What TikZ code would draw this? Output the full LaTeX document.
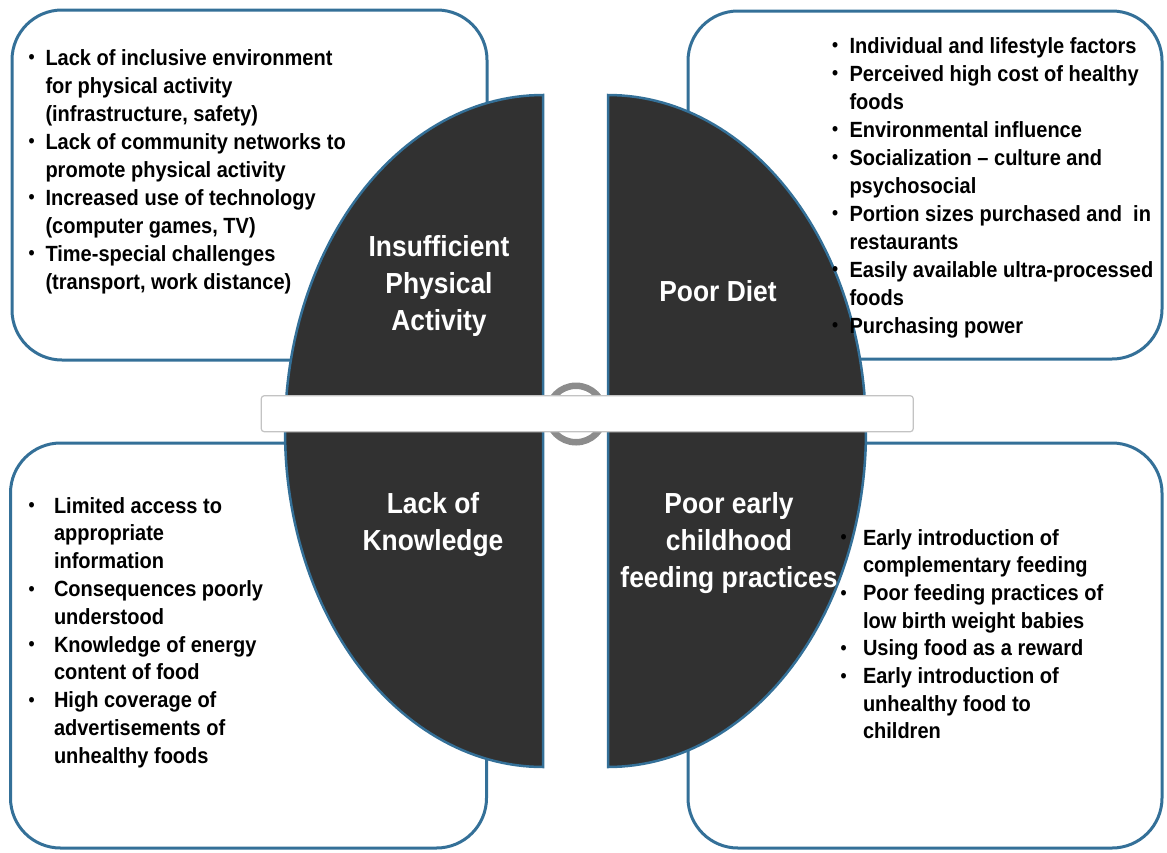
\documentclass[tikz,border=0pt]{standalone}
\usepackage{fontspec}
\setmainfont{Liberation Sans}[FakeStretch=0.91]
\definecolor{boxblue}{RGB}{52,112,152}
\definecolor{darkfill}{RGB}{49,49,49}
\definecolor{ringgray}{RGB}{140,140,140}
\definecolor{bargray}{RGB}{195,195,195}
\newcommand\bi[1]{\makebox[#1][l]{\hspace*{0.5pt}\raisebox{1.2pt}{\fontsize{19}{19}\selectfont •}}}
\newcommand\ci[1]{\hspace*{#1}}
\tikzset{
  boxstyle/.style={draw=boxblue, line width=3pt, fill=white, rounded corners=50pt, inner sep=0pt},
  halfstyle/.style={draw=boxblue, line width=2.5pt, fill=darkfill},
  itemtext/.style={anchor=north west, align=left, inner sep=0pt, outer sep=0pt, text=black,
    font=\fontsize{22}{28}\selectfont\bfseries},
  labelstyle/.style={anchor=north, align=center, inner sep=0pt, outer sep=0pt, text=white,
    font=\fontsize{29}{37}\selectfont\bfseries},
}
\begin{document}
\begin{tikzpicture}[x=1pt,y=-1pt]
\useasboundingbox (0,0) rectangle (1167,852);
% boxes
\node[boxstyle, minimum width=475pt, minimum height=350pt] (tl) at (249.5,185) {};
\node[boxstyle, minimum width=474pt, minimum height=348pt] (tr) at (925,185) {};
\node[boxstyle, minimum width=476pt, minimum height=405pt] (bl) at (248.5,645.5) {};
\node[boxstyle, minimum width=474pt, minimum height=405pt] (br) at (925,645.5) {};
% dark halves
\draw[halfstyle] plot[domain=90:270, samples=120] ({543+258*cos(\x)},{431-336*sin(\x)}) -- cycle;
\draw[halfstyle] plot[domain=-90:90, samples=120] ({608+258*cos(\x)},{431-336*sin(\x)}) -- cycle;
% ring and bar
\node[circle, draw=ringgray, line width=6.5pt, minimum size=56.5pt, inner sep=0pt] (ring) at (576,414) {};
\node[draw=bargray, line width=1.2pt, fill=white, rounded corners=3pt, minimum width=652pt, minimum height=36pt, inner sep=0pt] (bar) at (587.25,413.7) {};
% box texts
\node[itemtext] (tltext) at (28,45) {\rule{0pt}{20pt}\bi{17.5pt}Lack of inclusive environment\\
\ci{17.5pt}for physical activity\\
\ci{17.5pt}(infrastructure, safety)\\
\bi{17.5pt}Lack of community networks to\\
\ci{17.5pt}promote physical activity\\
\bi{17.5pt}Increased use of technology\\
\ci{17.5pt}(computer games, TV)\\
\bi{17.5pt}Time-special challenges\\
\ci{17.5pt}(transport, work distance)};
\node[itemtext] (trtext) at (831.5,33) {\rule{0pt}{20pt}\bi{18pt}Individual and lifestyle factors\\
\bi{18pt}Perceived high cost of healthy\\
\ci{18pt}foods\\
\bi{18pt}Environmental influence\\
\bi{18pt}Socialization – culture and\\
\ci{18pt}psychosocial\\
\bi{18pt}Portion sizes purchased and \ in\\
\ci{18pt}restaurants\\
\bi{18pt}Easily available ultra-processed\\
\ci{18pt}foods\\
\bi{18pt}Purchasing power};
\node[itemtext, font=\fontsize{22}{27.8}\selectfont\bfseries] (bltext) at (28,493) {\rule{0pt}{20pt}\bi{26pt}Limited access to\\
\ci{26pt}appropriate\\
\ci{26pt}information\\
\bi{26pt}Consequences poorly\\
\ci{26pt}understood\\
\bi{26pt}Knowledge of energy\\
\ci{26pt}content of food\\
\bi{26pt}High coverage of\\
\ci{26pt}advertisements of\\
\ci{26pt}unhealthy foods};
\node[itemtext, font=\fontsize{22}{27.7}\selectfont\bfseries] (brtext) at (840,525) {\rule{0pt}{20pt}\bi{23pt}Early introduction of\\
\ci{23pt}complementary feeding\\
\bi{23pt}Poor feeding practices of\\
\ci{23pt}low birth weight babies\\
\bi{23pt}Using food as a reward\\
\bi{23pt}Early introduction of\\
\ci{23pt}unhealthy food to\\
\ci{23pt}children};
% labels
\node[labelstyle] (lpa) at (439,230.7) {\rule{0pt}{26pt}Insufficient\\Physical\\Activity};
\node[labelstyle] (ldiet) at (718,275.7) {\rule{0pt}{26pt}Poor Diet};
\node[labelstyle] (lknow) at (433,487) {\rule{0pt}{26pt}Lack of\\Knowledge};
\node[labelstyle] (lfeed) at (729,487) {\rule{0pt}{26pt}Poor early\\childhood\\feeding practices};
\end{tikzpicture}
\end{document}
